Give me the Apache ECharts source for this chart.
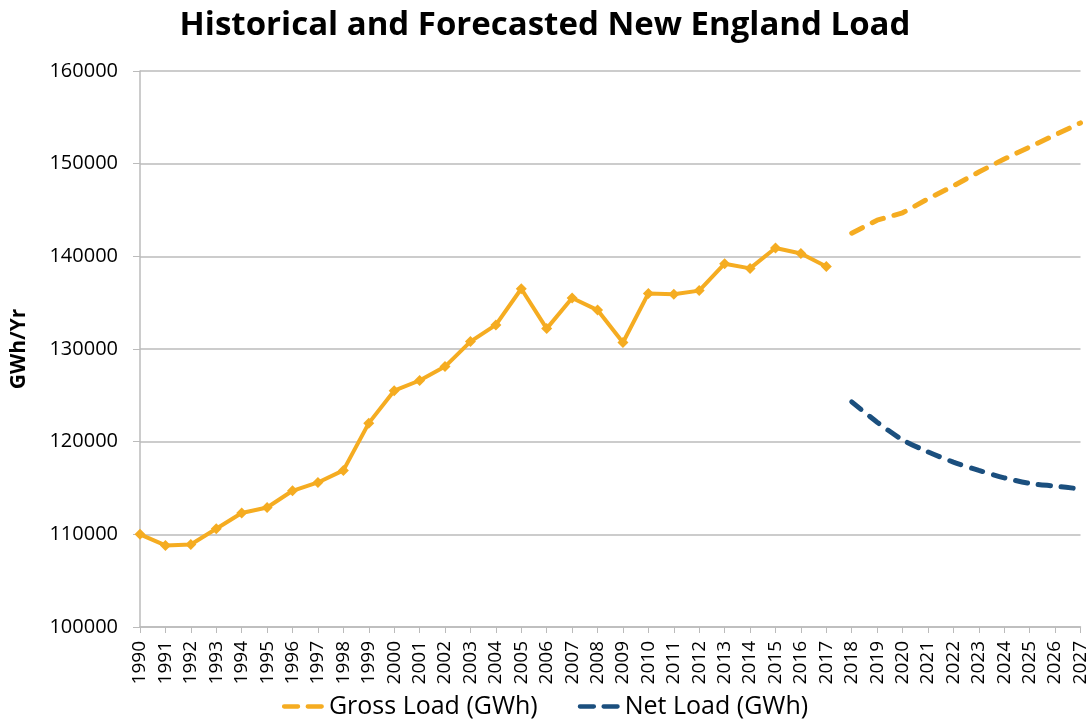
<!DOCTYPE html>
<html><head><meta charset="utf-8">
<script src="https://cdn.jsdelivr.net/npm/echarts@6/dist/echarts.min.js"></script>
<style>html,body{margin:0;padding:0;background:#fff}#c{width:1090px;height:722px}</style>
</head><body><div id="c"></div>
<script>
const years = [];
for (let y = 1990; y <= 2027; y++) years.push(String(y));
const historicalLoad = [110000,108800,108900,110600,112300,112900,114700,115600,116900,122000,125500,126600,128100,130800,132600,136500,132200,135500,134200,130700,136000,135900,136300,139200,138700,140900,140300,138900];
const grossForecast = [142500,143900,144700,146200,147600,149100,150500,151800,153100,154400];
const netForecast = [124300,122100,120200,118900,117800,116900,116100,115500,115200,114900];
const yTicks = {min:100000, max:160000, interval:10000};

const nHist = historicalLoad.length;
const histData = years.map((y,i)=> i < nHist ? historicalLoad[i] : null);
const grossData = years.map((y,i)=> i >= nHist ? grossForecast[i-nHist] : null);
const netData = years.map((y,i)=> i >= nHist ? netForecast[i-nHist] : null);

const ORANGE = '#F5AC21';
const BLUE = '#1B4F7E';
const dashIcon = 'path://M2,0h13a2,2 0 0 1 0,4h-13a2,2 0 0 1 0,-4z M24,0h13a2,2 0 0 1 0,4h-13a2,2 0 0 1 0,-4z';

const chart = echarts.init(document.getElementById('c'));
chart.setOption({
  backgroundColor:'#fff',
  animation:false,
  title:{text:'Historical and Forecasted New England Load', left:'center', top:4,
    textStyle:{fontFamily:'Open Sans', fontWeight:'bold', fontSize:33, color:'#000'}},
  grid:{left:140, right:9, top:71, bottom:95, containLabel:false},
  legend:{bottom:-2, left:'center', itemGap:40, itemWidth:42, itemHeight:6,
    data:[{name:'Gross Load (GWh)', icon:dashIcon},{name:'Net Load (GWh)', icon:dashIcon}],
    textStyle:{fontFamily:'Open Sans', fontSize:25, color:'#000'}},
  xAxis:{type:'category', data:years, boundaryGap:false,
    axisLine:{lineStyle:{color:'#BBBBBB', width:1.5}},
    axisTick:{show:true, length:6, interval:0, lineStyle:{color:'#BBBBBB'}},
    axisLabel:{rotate:90, interval:0, fontFamily:'Open Sans', fontSize:19, color:'#000', margin:14}},
  yAxis:{type:'value', min:yTicks.min, max:yTicks.max, interval:yTicks.interval,
    name:'GWh/Yr', nameLocation:'middle', nameGap:110, nameRotate:90,
    nameTextStyle:{fontFamily:'Open Sans', fontWeight:'bold', fontSize:21, color:'#000'},
    axisLine:{show:true, lineStyle:{color:'#BBBBBB', width:1.5}},
    axisTick:{show:true, length:7, lineStyle:{color:'#BBBBBB'}},
    splitLine:{lineStyle:{color:'#BBBBBB', width:1.5}},
    axisLabel:{fontFamily:'Open Sans', fontSize:20, color:'#000', margin:22, formatter:v=>String(v)}},
  series:[
    {name:'Historical Load', type:'line', data:histData, symbol:'diamond', symbolSize:11,
      itemStyle:{color:ORANGE}, lineStyle:{color:ORANGE, width:4}},
    {name:'Gross Load (GWh)', type:'line', data:grossData, symbol:'none',
      itemStyle:{color:ORANGE}, lineStyle:{color:ORANGE, width:5, type:[12,11], cap:'round'}},
    {name:'Net Load (GWh)', type:'line', data:netData, symbol:'none', smooth:0.3,
      itemStyle:{color:BLUE}, lineStyle:{color:BLUE, width:5, type:[12,11], cap:'round'}}
  ]
});
</script></body></html>
